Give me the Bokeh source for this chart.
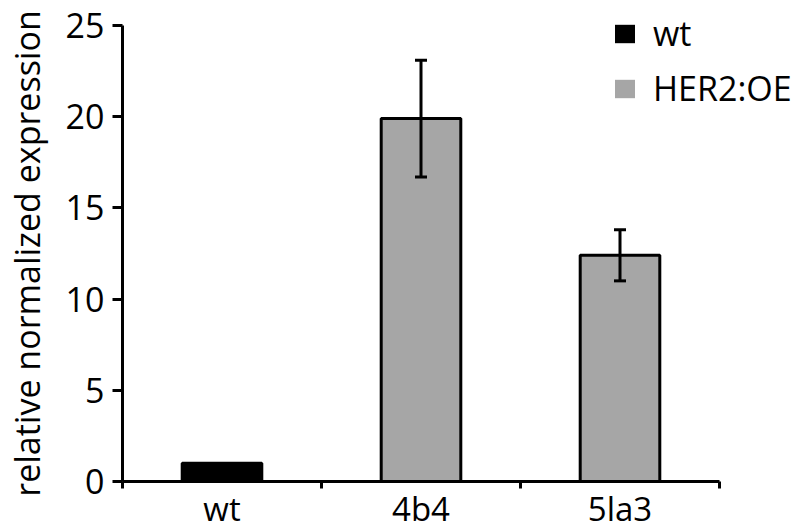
from bokeh.plotting import figure
from bokeh.models import (ColumnDataSource, Range1d, FixedTicker, Whisker, TeeHead,
                          Legend, LegendItem, LinearAxis)
from bokeh.embed import file_html
from bokeh.resources import INLINE

# ---- data ----
categories = ["wt", "4b4", "5la3"]
expression = [1.0, 19.9, 12.4]
bar_colors = ["#000000", "#a6a6a6", "#a6a6a6"]
err_categories = ["4b4", "5la3"]
err_lower = [16.7, 11.0]
err_upper = [23.1, 13.8]
y_ticks = [0, 5, 10, 15, 20, 25]
legend_labels = ["wt", "HER2:OE"]
legend_index = [0, 1]   # bar whose colour is shown for each legend entry

FONT = "Open Sans"
W, H = 796, 532

# ---- layout (pixels) ----
AX_LEFT, AX_RIGHT = 122, 719      # x = 0 .. n
AX_BOTTOM, AX_TOP = 481, 25       # y = 0 .. 25
ncat = len(categories)
ymax = y_ticks[-1]
xs = (AX_RIGHT - AX_LEFT) / ncat
ys = (AX_BOTTOM - AX_TOP) / ymax
x_range = Range1d(-AX_LEFT / xs, (W - AX_LEFT) / xs)
y_range = Range1d(-(H - AX_BOTTOM) / ys, ymax + AX_TOP / ys)

pos = {c: i + 0.5 for i, c in enumerate(categories)}

bars = ColumnDataSource(dict(x=[pos[c] for c in categories], top=expression, color=bar_colors))
errs = ColumnDataSource(dict(x=[pos[c] for c in err_categories], lower=err_lower, upper=err_upper))

p = figure(width=W, height=H, output_backend="svg", toolbar_location=None,
           x_range=x_range, y_range=y_range, x_axis_type=None, y_axis_type=None,
           min_border=0)
p.outline_line_color = None
p.background_fill_color = "white"
p.border_fill_color = "white"

# fill-only copy of the bars, used for the legend swatches (no outline)
swatch = p.vbar(x="x", top="top", width=0.4, bottom=0, fill_color="color", line_color=None,
                source=bars)
p.vbar(x="x", top="top", width=0.4, bottom=0, fill_color="color", line_color="black",
       line_width=3, source=bars)

w = Whisker(base="x", lower="lower", upper="upper", source=errs, line_width=3, line_color="black",
            upper_head=TeeHead(size=12, line_width=3, line_color="black"),
            lower_head=TeeHead(size=12, line_width=3, line_color="black"),
            level="overlay")
p.add_layout(w)

# y axis
ya = LinearAxis(fixed_location=0, bounds=(0, ymax))
ya.ticker = FixedTicker(ticks=y_ticks, minor_ticks=[])
ya.axis_line_width = 3
ya.major_tick_line_width = 3
ya.major_tick_out = 10
ya.major_tick_in = 0
ya.minor_tick_line_color = None
ya.major_label_text_font = FONT
ya.major_label_text_font_size = "34px"
ya.major_label_text_color = "black"
ya.major_label_standoff = 8
ya.axis_label = "relative normalized expression"
ya.axis_label_text_font = FONT
ya.axis_label_text_font_size = "34px"
ya.axis_label_text_font_style = "normal"
ya.axis_label_text_color = "black"
ya.axis_label_standoff = 13
p.add_layout(ya, "left")

# x axis: labels at centers, tick marks at category boundaries
xa = LinearAxis(fixed_location=0, bounds=(0, ncat))
xa.ticker = FixedTicker(ticks=[pos[c] for c in categories], minor_ticks=list(range(ncat + 1)))
xa.major_label_overrides = {pos[c]: c for c in categories}
xa.axis_line_width = 3
xa.major_tick_out = 0
xa.major_tick_in = 0
xa.minor_tick_out = 7
xa.minor_tick_in = 0
xa.minor_tick_line_width = 3
xa.minor_tick_line_color = "black"
xa.major_label_text_font = FONT
xa.major_label_text_font_size = "33px"
xa.major_label_text_color = "black"
xa.major_label_standoff = -3
p.add_layout(xa, "below")

# legend
items = [LegendItem(label=lab, renderers=[swatch], index=i)
         for lab, i in zip(legend_labels, legend_index)]
leg = Legend(items=items, location=(612, 421), glyph_width=25, glyph_height=23,
             label_standoff=16, label_text_font=FONT, label_text_font_size="34px",
             label_text_color="black", spacing=9, padding=0, margin=0,
             border_line_color=None, background_fill_alpha=0)
p.add_layout(leg)

open("out.html", "w").write(file_html(p, INLINE))
